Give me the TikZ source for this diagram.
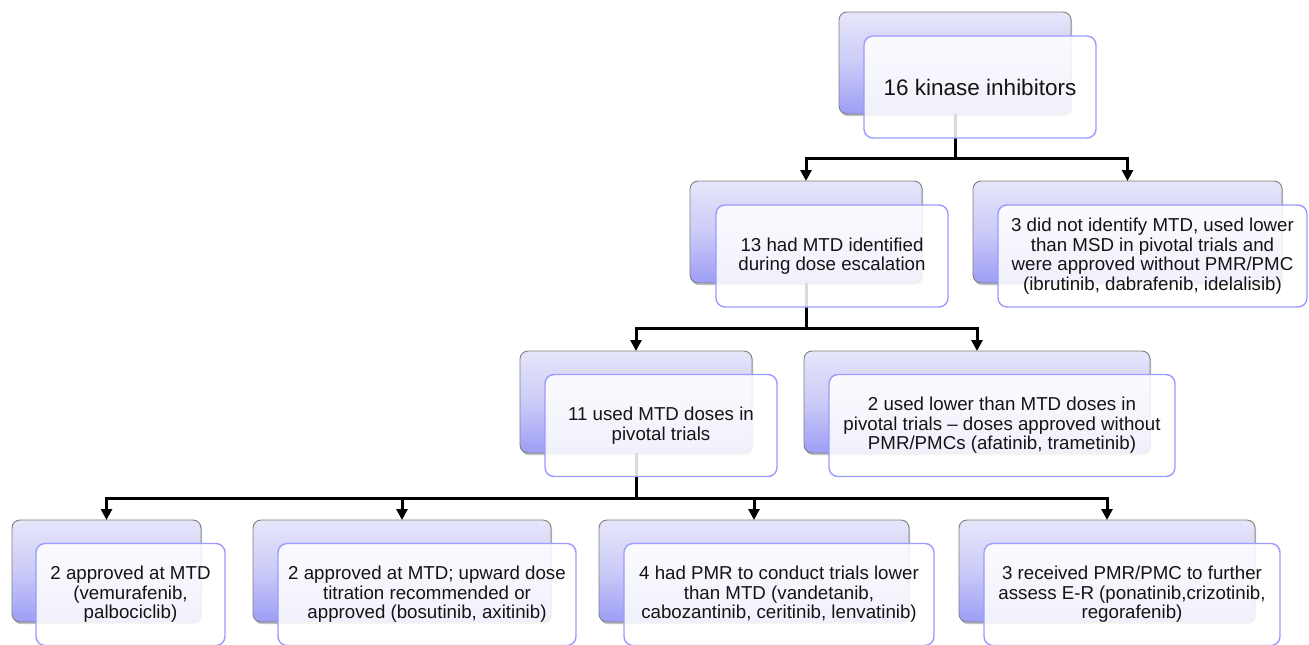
\documentclass[tikz,border=0pt]{standalone}
\usepackage{fontspec}
\setmainfont{Liberation Sans}
\usetikzlibrary{shadows,arrows.meta,calc}
\definecolor{backtop}{HTML}{E6E6FA}
\definecolor{backmid}{HTML}{CBCBF8}
\definecolor{backbot}{HTML}{9D9DF5}
\definecolor{backline}{HTML}{7F7F7F}
\definecolor{frontline}{HTML}{9A9AFF}
\tikzset{
  backbox/.style={rectangle, rounded corners=8pt, draw=backline, line width=0.9pt,
    top color=backtop, bottom color=backbot, middle color=backmid,
    minimum height=102pt, inner sep=0pt, outer sep=0pt, anchor=north west,
    drop shadow={shadow xshift=1.2pt, shadow yshift=-2.2pt, opacity=0.35, fill=black!70}},
  frontbox/.style={rectangle, rounded corners=9pt, draw=frontline, line width=1.4pt,
    fill=white, fill opacity=0.86, text opacity=1,
    minimum height=102pt, inner sep=0pt, outer sep=0pt, anchor=north west,
    align=center, text=black!92, font=\fontsize{18.7}{19.6}\selectfont},
  conn/.style={line width=3pt, draw=black, -{Triangle[width=11pt,length=11pt]}},
  stem/.style={line width=3pt, draw=black}
}
\begin{document}
\begin{tikzpicture}[x=1pt,y=1pt]
\useasboundingbox (0,0) rectangle (1309,-645);
% back boxes
\node[backbox, minimum width=232pt] (b0) at (839,-12) {};
\node[backbox, minimum width=232pt] (b1) at (690,-181) {};
\node[backbox, minimum width=309pt] (b2) at (973,-181) {};
\node[backbox, minimum width=232pt] (b3) at (520,-351) {};
\node[backbox, minimum width=346pt] (b4) at (804,-351) {};
\node[backbox, minimum width=189pt] (b5) at (12,-520) {};
\node[backbox, minimum width=298pt] (b6) at (253,-520) {};
\node[backbox, minimum width=310pt] (b7) at (599,-520) {};
\node[backbox, minimum width=296pt] (b8) at (959,-520) {};
% connectors
\draw[stem] (b0.south) -- ++(0,-44) coordinate (j0);
\draw[conn] (j0) -| (b1.north);
\draw[conn] (j0) -| (b2.north);
\draw[stem] (b1.south) -- ++(0,-45) coordinate (j1);
\draw[conn] (j1) -| (b3.north);
\draw[conn] (j1) -| (b4.north);
\draw[stem] (b3.south) -- ++(0,-45) coordinate (j3);
\draw[conn] (j3) -| (b5.north);
\draw[conn] (j3) -| (b6.north);
\draw[conn] (j3) -| (b7.north);
\draw[conn] (j3) -| (b8.north);
% front boxes
\node[frontbox, minimum width=232pt, font=\fontsize{22.5}{24}\selectfont] (f0) at ($(b0.north west)+(25,-24)$) {16 kinase inhibitors};
\node[frontbox, minimum width=232pt] (f1) at ($(b1.north west)+(26,-24)$) {13 had MTD identified\\during dose escalation};
\node[frontbox, minimum width=309pt] (f2) at ($(b2.north west)+(25,-24)$) {3 did not identify MTD, used lower\\than MSD in pivotal trials and\\were approved without PMR/PMC\\(ibrutinib, dabrafenib, idelalisib)};
\node[frontbox, minimum width=232pt] (f3) at ($(b3.north west)+(25,-23.5)$) {11 used MTD doses in\\pivotal trials};
\node[frontbox, minimum width=346pt] (f4) at ($(b4.north west)+(25,-23.5)$) {2 used lower than MTD doses in\\pivotal trials – doses approved without\\PMR/PMCs (afatinib, trametinib)};
\node[frontbox, minimum width=189pt] (f5) at ($(b5.north west)+(24,-23.5)$) {2 approved at MTD\\(vemurafenib,\\palbociclib)};
\node[frontbox, minimum width=298pt] (f6) at ($(b6.north west)+(25,-23.5)$) {2 approved at MTD; upward dose\\titration recommended or\\approved (bosutinib, axitinib)};
\node[frontbox, minimum width=310pt] (f7) at ($(b7.north west)+(25,-23.5)$) {4 had PMR to conduct trials lower\\than MTD (vandetanib,\\cabozantinib, ceritinib, lenvatinib)};
\node[frontbox, minimum width=296pt] (f8) at ($(b8.north west)+(25,-23.5)$) {3 received PMR/PMC to further\\assess E-R (ponatinib,crizotinib,\\regorafenib)};
\end{tikzpicture}
\end{document}
